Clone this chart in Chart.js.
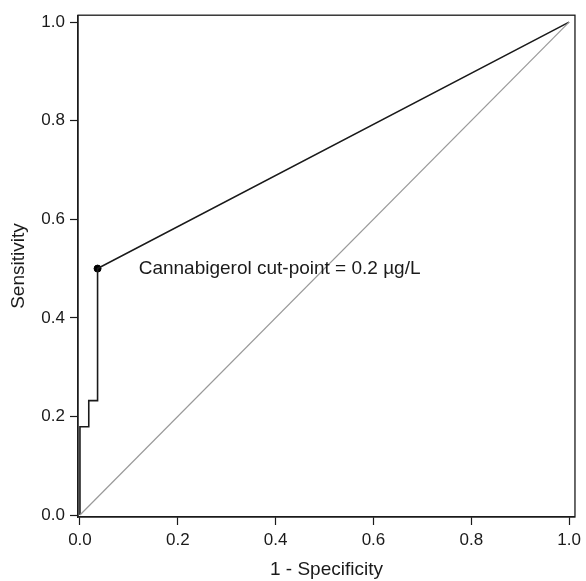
<!DOCTYPE html>
<html>
<head>
<meta charset="utf-8">
<script src="https://cdn.jsdelivr.net/npm/chart.js@4"></script>
<style>
  html, body { margin: 0; padding: 0; background: #fff; }
  #wrap { width: 586px; height: 581px; }
</style>
</head>
<body>
<div id="wrap"><canvas id="roc"></canvas></div>
<script>
/* ROC curve — cannabigerol cut-point */

// ROC step curve (1 - specificity, sensitivity)
const fpr = [0, 0, 0.018, 0.018, 0.036, 0.036, 1];
const tpr = [0, 0.179, 0.179, 0.232, 0.232, 0.5, 1];

// reference diagonal
const diagX = [0, 1];
const diagY = [0, 1];

// highlighted cut-point
const cutX = [0.036];
const cutY = [0.5];
const cutLabel = 'Cannabigerol cut-point = 0.2 µg/L';

const tickValues = [0, 0.2, 0.4, 0.6, 0.8, 1.0];

const toPts = (xs, ys) => xs.map((x, i) => ({ x, y: ys[i] }));

const FONT = 'Arial, "Liberation Sans", sans-serif';
const INK = '#1a1a1a';

// box around the plot + annotation text
const boxAndLabel = {
  id: 'boxAndLabel',
  afterDatasetsDraw(chart) {
    const { ctx, chartArea: a, scales } = chart;
    ctx.save();
    ctx.strokeStyle = INK;
    ctx.lineWidth = 1.3;
    ctx.strokeRect(a.left, a.top, a.right - a.left, a.bottom - a.top);

    ctx.fillStyle = INK;
    ctx.font = '19px ' + FONT;
    ctx.textBaseline = 'middle';
    ctx.textAlign = 'left';
    ctx.fillText(cutLabel, scales.x.getPixelForValue(0.12), scales.y.getPixelForValue(cutY[0]));
    ctx.restore();
  }
};

const axisCommon = {
  type: 'linear',
  afterBuildTicks: (s) => { s.ticks = tickValues.map(v => ({ value: v })); },
  grid: { drawOnChartArea: false, color: INK, tickLength: 8, tickWidth: 1.2 },
  border: { color: INK, width: 1.3 },
  ticks: {
    color: INK,
    font: { family: FONT, size: 17 },
    callback: (v) => Number(v).toFixed(1)
  },
  title: { display: true, color: INK, font: { family: FONT, size: 19 } }
};

new Chart(document.getElementById('roc'), {
  type: 'scatter',
  data: {
    datasets: [
      {
        data: toPts(diagX, diagY),
        showLine: true,
        borderColor: '#999999',
        borderWidth: 1.2,
        pointRadius: 0
      },
      {
        data: toPts(fpr, tpr),
        showLine: true,
        borderColor: INK,
        borderWidth: 1.6,
        pointRadius: 0
      },
      {
        data: toPts(cutX, cutY),
        showLine: false,
        backgroundColor: '#000',
        borderColor: '#000',
        pointRadius: 3.5
      }
    ]
  },
  options: {
    responsive: true,
    maintainAspectRatio: false,
    animation: false,
    layout: { padding: { top: 15, right: 7, left: 0, bottom: 0 } },
    plugins: { legend: { display: false }, tooltip: { enabled: false } },
    scales: {
      x: {
        ...axisCommon,
        min: -0.004,
        max: 1.012,
        ticks: { ...axisCommon.ticks, padding: 5, maxRotation: 0 },
        title: { ...axisCommon.title, text: '1 - Specificity', padding: { top: 0, bottom: 0 } },
        afterFit: (s) => { s.height = 64; }
      },
      y: {
        ...axisCommon,
        min: -0.004,
        max: 1.014,
        ticks: { ...axisCommon.ticks, padding: 5 },
        title: { ...axisCommon.title, text: 'Sensitivity', padding: { top: 7, bottom: 0 } },
        afterFit: (s) => { s.width = 78; }
      }
    }
  },
  plugins: [boxAndLabel]
});
</script>
</body>
</html>
